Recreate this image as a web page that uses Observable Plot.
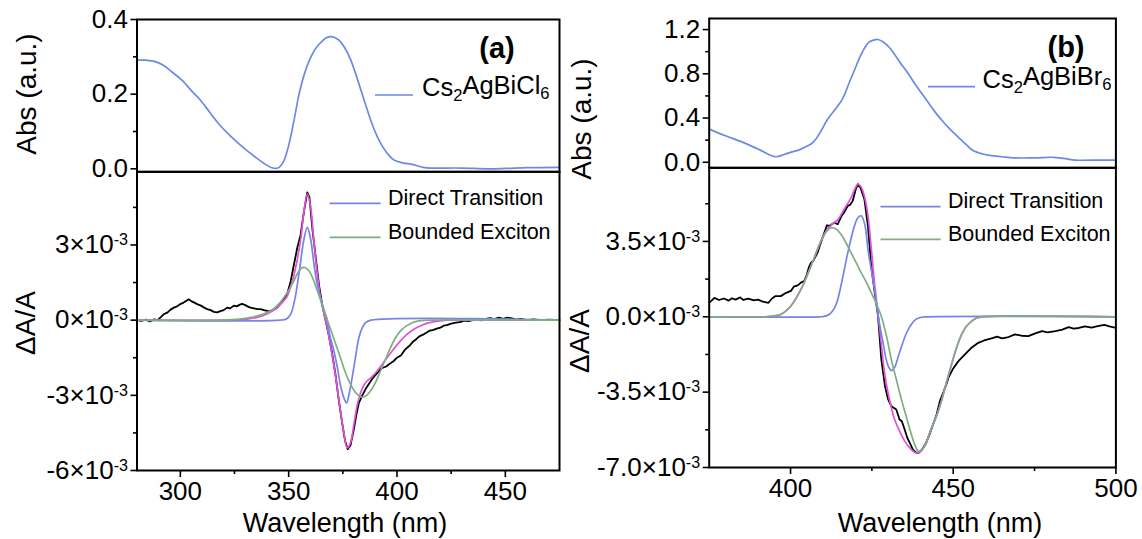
<!DOCTYPE html>
<html>
<head>
<meta charset="utf-8">
<script src="https://cdn.jsdelivr.net/npm/d3@7"></script>
<script src="https://cdn.jsdelivr.net/npm/@observablehq/plot@0.6"></script>
<style>
  body { margin: 0; background: #fff; }
  #chart { position: relative; width: 1142px; height: 539px; overflow: hidden; background: #fff; }
</style>
</head>
<body>
<div id="chart"></div>
<script>
// ---------- Panel (a): Cs2AgBiCl6 ----------
const absA_nm = [280, 284, 288, 292, 296, 301, 305, 309.4, 313.5, 317.8, 322, 326.3, 330.5, 334.7, 338.5, 342.2, 345, 347.5, 349.8, 352.3, 354.8, 357.3, 359.9, 362.4, 364.9, 367, 369.1, 371.2, 373.3, 375.8, 378.4, 380.9, 383.4, 386, 388.5, 391, 393.5, 396, 398.5, 402.7, 406.9, 412, 415.4, 420, 430, 441.8, 450, 460, 475];
const absA = [0.292, 0.291, 0.288, 0.278, 0.26, 0.236, 0.21, 0.183, 0.152, 0.12, 0.094, 0.071, 0.05, 0.031, 0.015, 0.003, 0.002, 0.018, 0.058, 0.125, 0.2, 0.255, 0.295, 0.322, 0.339, 0.35, 0.354, 0.352, 0.344, 0.325, 0.295, 0.255, 0.21, 0.163, 0.12, 0.085, 0.058, 0.038, 0.024, 0.016, 0.012, 0.004, 0.002, 0.002, 0.002, 0.0, 0.001, 0.003, 0.004];

// ΔA/A in units of 1e-3
const dataA_nm = [280, 282, 284, 286, 288, 289.5, 291, 292.4, 294, 295.5, 297, 298.5, 300, 301.5, 303, 303.9, 305, 306.5, 307.8, 309.5, 311, 312.4, 314, 315.5, 317, 318.5, 320, 321.6, 323, 324.7, 326, 327.5, 328.5, 330, 331, 332.4, 334, 335.5, 337, 338.5, 340.1, 341.5, 343, 344.7, 346.5, 348, 349.3, 350.8, 352.4, 354, 355.5, 357, 358.6, 359.6, 361, 362.5, 364, 365.5, 367, 368.5, 370, 371.5, 373, 374.5, 376, 377.2, 378.5, 380, 381.2, 382.4, 384, 385.5, 387, 388.5, 390, 391.5, 392.4, 393.5, 395, 396.5, 398.5, 400, 401.9, 403.5, 404.7, 406, 407.5, 409, 410.3, 412, 413.5, 415, 416.5, 418.7, 420, 421.5, 423, 425, 427.1, 429, 431, 433, 435, 437, 439, 441, 443, 445, 447, 449, 451, 453, 455, 457, 460, 463, 466, 470, 475];
const dataA = [0.0, -0.03, 0.02, -0.05, 0.03, 0.0, 0.12, 0.24, 0.3, 0.42, 0.5, 0.55, 0.64, 0.7, 0.78, 0.83, 0.76, 0.7, 0.64, 0.58, 0.5, 0.44, 0.4, 0.33, 0.31, 0.36, 0.4, 0.5, 0.47, 0.58, 0.55, 0.62, 0.65, 0.6, 0.55, 0.5, 0.47, 0.44, 0.44, 0.4, 0.37, 0.36, 0.42, 0.5, 0.7, 0.85, 1.04, 1.5, 2.2, 2.9, 3.4, 4.3, 5.1, 4.9, 3.6, 2.5, 1.4, 0.6, 0.0, -0.6, -1.3, -2.1, -3.1, -4.0, -4.8, -5.15, -5.0, -4.4, -3.8, -3.3, -3.0, -2.75, -2.55, -2.35, -2.2, -2.05, -1.95, -1.9, -1.85, -1.75, -1.63, -1.5, -1.4, -1.2, -1.1, -1.0, -0.85, -0.75, -0.65, -0.58, -0.5, -0.42, -0.4, -0.33, -0.3, -0.22, -0.2, -0.14, -0.1, -0.08, -0.02, -0.04, 0.0, 0.03, -0.01, 0.05, 0.08, 0.04, 0.1, 0.05, 0.1, 0.07, 0.02, 0.05, 0.0, 0.03, 0.0, 0.02, 0.0];

const fitA_nm = [280, 325, 330, 335, 340, 344, 347, 349.3, 351, 353, 355.5, 357, 358.6, 360, 361.6, 363, 364.7, 366.2, 367.8, 369.3, 370.8, 372.4, 373.9, 375.5, 377, 378.5, 380.1, 381.6, 383.2, 384.7, 386.2, 388.5, 390.8, 393, 395.4, 398.5, 401.6, 404.7, 407.8, 410.8, 414, 418, 422, 426, 475];
const fitA = [0, 0, 0.03, 0.1, 0.25, 0.45, 0.7, 0.95, 1.35, 2.0, 3.2, 4.3, 5.04, 4.6, 3.2, 2.0, 0.9, 0.3, -0.3, -1.0, -1.76, -2.7, -3.63, -4.5, -5.1, -4.9, -4.16, -3.4, -2.9, -2.6, -2.43, -2.25, -2.03, -1.78, -1.5, -1.15, -0.83, -0.56, -0.36, -0.23, -0.12, -0.05, -0.01, 0, 0];

const directA_nm = [280, 346, 349, 351, 353, 355, 357, 358.6, 360, 361.6, 363, 364.7, 366, 367.8, 369, 370.8, 372.5, 373.9, 375.5, 376.7, 378, 379.3, 381, 382.4, 384, 385.5, 388, 475];
const directA = [0, 0, 0.05, 0.25, 0.9, 2.0, 3.2, 3.7, 3.3, 2.3, 1.5, 0.9, 0.5, 0.0, -0.6, -1.2, -1.9, -2.6, -3.1, -3.3, -2.9, -2.3, -1.4, -0.7, -0.3, -0.1, 0, 0];

const excitonA_nm = [280, 318, 324, 328, 332, 336, 340, 343, 346, 349, 352, 354, 356, 357.5, 359, 360.5, 362.5, 364.7, 367, 369.3, 371.5, 373.9, 376, 378.5, 381, 383.9, 386, 388, 390, 392.4, 395, 397, 399, 401.6, 404, 406.2, 408.5, 411, 414, 475];
const excitonA = [0, 0, 0.02, 0.05, 0.1, 0.18, 0.3, 0.45, 0.7, 1.05, 1.5, 1.85, 2.08, 2.1, 2.0, 1.8, 1.35, 0.8, 0.2, -0.35, -0.9, -1.5, -2.05, -2.55, -2.9, -3.07, -3.0, -2.8, -2.5, -2.03, -1.5, -1.1, -0.75, -0.43, -0.25, -0.14, -0.06, -0.02, 0, 0];

// ---------- Panel (b): Cs2AgBiBr6 ----------
const absB_nm = [375, 380, 385.4, 390, 395.4, 398, 400, 402.5, 404.4, 406.5, 407.8, 409.5, 411.2, 413.5, 415.7, 417, 417.9, 419.6, 421.3, 422.7, 424.1, 425.5, 426.9, 428.6, 430.3, 432, 433.6, 436, 438.2, 440.4, 442.6, 444.8, 447.1, 449.3, 451.6, 454, 456.1, 459, 461.7, 465, 468.5, 475, 480.8, 484, 487.6, 495, 500];
const absB = [0.30, 0.24, 0.18, 0.12, 0.05, 0.07, 0.09, 0.11, 0.135, 0.17, 0.21, 0.29, 0.38, 0.47, 0.56, 0.64, 0.71, 0.83, 0.95, 1.03, 1.086, 1.105, 1.11, 1.085, 1.04, 0.975, 0.905, 0.81, 0.71, 0.62, 0.53, 0.44, 0.36, 0.29, 0.226, 0.16, 0.106, 0.075, 0.06, 0.05, 0.04, 0.04, 0.045, 0.035, 0.02, 0.02, 0.02];

const dataB_nm = [375, 376.6, 378, 379.5, 381, 382, 383.1, 384.5, 385.5, 387, 388.7, 390, 391.5, 393.2, 394.3, 395.4, 397, 398.5, 400.1, 401, 402.2, 403.3, 404.2, 405, 405.6, 406.3, 407, 408.3, 409, 410.4, 411.2, 411.9, 413.4, 414.5, 415.7, 416.5, 417.6, 418.3, 419.1, 420, 420.7, 421.5, 422.7, 423.8, 424.8, 425.8, 426.9, 427.9, 429, 430, 431, 432.5, 433.5, 434.2, 435, 435.9, 436.8, 437.6, 438.5, 439.3, 440.4, 441.5, 442.7, 443.8, 444.9, 445.9, 447, 448.2, 448.5, 450, 451.6, 453.6, 455.5, 457.7, 459.5, 461.8, 463.5, 465, 467, 469, 471, 473.1, 475, 477.3, 479, 481.4, 483.5, 485.5, 487, 488.6, 490.5, 492.5, 494.4, 496.5, 498, 500];
const dataB = [0.65, 0.88, 0.78, 0.85, 0.75, 0.86, 0.8, 0.9, 0.78, 0.84, 0.76, 0.8, 0.7, 0.65, 0.85, 0.96, 0.96, 1.1, 1.2, 1.4, 1.46, 1.6, 1.66, 1.95, 2.28, 2.51, 2.6, 2.98, 3.3, 3.91, 4.25, 4.22, 4.37, 4.3, 4.69, 4.85, 5.15, 5.2, 5.38, 5.9, 6.16, 6.0, 5.46, 4.2, 2.36, 1.2, 0.03, -1.98, -3.2, -3.84, -4.16, -4.31, -4.77, -4.85, -5.2, -5.63, -5.9, -6.17, -6.3, -6.33, -6.17, -5.9, -5.47, -5.0, -4.54, -3.92, -3.5, -3.0, -2.84, -2.4, -2.06, -1.75, -1.45, -1.21, -1.1, -1.0, -0.92, -1.0, -0.94, -0.82, -0.88, -0.9, -0.78, -0.67, -0.72, -0.67, -0.6, -0.48, -0.55, -0.52, -0.45, -0.5, -0.43, -0.38, -0.45, -0.51];

const fitB_nm = [375, 392, 394.3, 397, 400.1, 403.2, 406.3, 409.4, 411, 412.4, 414.5, 416.5, 418.5, 419.8, 420.7, 421.6, 422.7, 423.8, 424.8, 425.8, 427.3, 428.9, 430.4, 432, 433.5, 435, 437, 438.7, 440, 441.5, 443, 444.9, 446.4, 448, 449.5, 451, 452.6, 454, 455.7, 457.2, 458.7, 500];
const fitB = [0, 0, 0.03, 0.11, 0.5, 1.27, 2.36, 3.55, 4.0, 4.25, 4.5, 5.0, 5.5, 5.95, 6.16, 6.05, 5.6, 4.69, 3.2, 1.58, -0.43, -2.6, -3.84, -4.77, -5.3, -5.75, -6.15, -6.33, -6.25, -5.94, -5.3, -4.6, -3.9, -3.0, -2.2, -1.45, -0.82, -0.45, -0.2, -0.06, 0, 0];

const directB_nm = [375, 409, 410.4, 412, 413.5, 414.5, 416, 417.6, 419.6, 420.7, 421.7, 422.8, 423.8, 424.8, 425.8, 426.5, 427.3, 428.3, 429.4, 430.2, 431, 432, 433, 434, 435.5, 437.1, 438.5, 440.2, 442, 500];
const directB = [0, 0, 0.02, 0.12, 0.4, 0.8, 1.8, 2.98, 4.2, 4.6, 4.69, 4.3, 3.13, 2.2, 1.27, 0.5, -0.28, -1.1, -1.98, -2.35, -2.5, -2.35, -1.9, -1.44, -0.8, -0.36, -0.12, -0.02, 0, 0];

const excitonB_nm = [375, 392, 394.3, 397, 400.1, 403.2, 406.3, 409.4, 411, 412.4, 414, 415.5, 417, 418.6, 420.2, 421.7, 423.3, 424.8, 426.4, 427.9, 429.5, 431, 432.5, 434, 435.5, 437, 438.2, 439.3, 440.4, 441.5, 443, 444.9, 446.4, 448, 449.5, 451, 452.6, 454, 455.7, 457.2, 458.7, 500];
const excitonB = [0, 0, 0.03, 0.11, 0.5, 1.27, 2.36, 3.52, 3.95, 4.14, 4.08, 3.83, 3.45, 2.98, 2.5, 2.05, 1.6, 1.12, 0.6, 0.03, -0.9, -2.0, -2.9, -3.8, -4.6, -5.4, -5.95, -6.25, -6.15, -5.9, -5.3, -4.6, -3.9, -3.0, -2.2, -1.45, -0.82, -0.45, -0.2, -0.06, 0, 0];

// ---------- Axis ticks and labels ----------
const absA_ticks = [0, 0.2, 0.4];
const absA_minor = [0.1, 0.3];
const absB_ticks = [0, 0.4, 0.8, 1.2];
const absB_minor = [0.2, 0.6, 1.0];
const dA_ticks = [-6, -3, 0, 3];
const dA_labels = ["-6×10^-3", "-3×10^-3", "0×10^-3", "3×10^-3"];
const dA_minor = [-4.5, -1.5, 1.5, 4.5];
const dB_ticks = [-7, -3.5, 0, 3.5];
const dB_labels = ["-7.0×10^-3", "-3.5×10^-3", "0.0×10^-3", "3.5×10^-3"];
const dB_minor = [-5.25, -1.75, 1.75, 5.25];
const xA_ticks = [300, 350, 400, 450];
const xA_minor = [325, 375, 425];
const xB_ticks = [400, 450, 500];
const xB_minor = [425, 475];

const FONT = 'Arial, "Liberation Sans", Helvetica, sans-serif';
const C_ABS = "#6d89e2";
const C_DIRECT = "#7783e8";
const C_EXC = "#7fae80";
const C_FIT = "#e052dc";
const C_DATA = "#000000";

const W = 571, H = 539;
const chart = document.getElementById("chart");

const rows = (xs, ys) => xs.map((x, i) => ({x, y: ys[i]}));

function place(svg, left) {
  svg.style.position = "absolute";
  svg.style.left = left + "px";
  svg.style.top = "0px";
  svg.style.maxWidth = "none";
  chart.appendChild(svg);
}

// Rewrite "a^b" tick labels as base + superscript tspans
function superscripts(svg) {
  svg.querySelectorAll("text").forEach(t => {
    const s = t.textContent;
    if (!s.includes("^")) return;
    const [base, exp] = s.split("^");
    t.textContent = "";
    const ns = "http://www.w3.org/2000/svg";
    const a = document.createElementNS(ns, "tspan");
    a.textContent = base;
    const b = document.createElementNS(ns, "tspan");
    b.textContent = exp;
    b.setAttribute("dy", "-0.5em");
    b.setAttribute("font-size", "0.62em");
    t.appendChild(a);
    t.appendChild(b);
  });
}

function subplot({left, ml, mr, mt, mb, xDomain, yDomain, yTicks, yMinor, yFormat, xTicks, xMinor, series}) {
  const marks = series.map(s => Plot.line(rows(s.x, s.y), {
    x: "x", y: "y", stroke: s.color, strokeWidth: s.width || 1.7,
    curve: s.curve || "catmull-rom"
  }));
  marks.push(
    Plot.frame({stroke: "black", strokeWidth: 2}),
    Plot.axisY(yTicks, {anchor: "left", label: null, tickSize: 6, tickPadding: 3, tickFormat: yFormat, strokeWidth: 1.6}),
    Plot.axisY(yMinor, {anchor: "left", label: null, tickSize: 3.5, tickFormat: () => "", strokeWidth: 1.6})
  );
  if (xTicks) {
    marks.push(
      Plot.axisX(xTicks, {anchor: "bottom", label: null, tickSize: 7, tickPadding: 4, tickFormat: d => String(d), strokeWidth: 1.6}),
      Plot.axisX(xMinor, {anchor: "bottom", label: null, tickSize: 4, tickFormat: () => "", strokeWidth: 1.6})
    );
  }
  const svg = Plot.plot({
    width: W, height: H,
    marginLeft: ml, marginRight: mr, marginTop: mt, marginBottom: mb,
    x: {domain: xDomain, label: null, axis: xTicks ? undefined : null},
    y: {domain: yDomain, label: null},
    style: {background: "transparent", fontFamily: FONT, fontSize: "26px", color: "black", overflow: "visible"},
    marks
  });
  superscripts(svg);
  place(svg, left);
}

// Panel (a)
subplot({
  left: 0, ml: 136.5, mr: 12, mt: 19, mb: H - 171.3,
  xDomain: [280, 475], yDomain: [-0.008, 0.4],
  yTicks: absA_ticks, yMinor: absA_minor, yFormat: d => d.toFixed(1),
  series: [{x: absA_nm, y: absA, color: C_ABS}]
});
subplot({
  left: 0, ml: 136.5, mr: 12, mt: 171.3, mb: H - 470,
  xDomain: [280, 475], yDomain: [-6, 5.92],
  yTicks: dA_ticks, yMinor: dA_minor, yFormat: (d, i) => dA_labels[i],
  xTicks: xA_ticks, xMinor: xA_minor,
  series: [
    {x: dataA_nm, y: dataA, color: C_DATA, curve: "linear", width: 1.8},
    {x: fitA_nm, y: fitA, color: C_FIT},
    {x: directA_nm, y: directA, color: C_DIRECT},
    {x: excitonA_nm, y: excitonA, color: C_EXC}
  ]
});

// Panel (b)
subplot({
  left: 571, ml: 137.7, mr: 26.6, mt: 18, mb: H - 167.3,
  xDomain: [375, 500], yDomain: [-0.05, 1.30],
  yTicks: absB_ticks, yMinor: absB_minor, yFormat: d => d.toFixed(1),
  series: [{x: absB_nm, y: absB, color: C_ABS}]
});
subplot({
  left: 571, ml: 137.7, mr: 26.6, mt: 167.3, mb: H - 467,
  xDomain: [375, 500], yDomain: [-7, 6.92],
  yTicks: dB_ticks, yMinor: dB_minor, yFormat: (d, i) => dB_labels[i],
  xTicks: xB_ticks, xMinor: xB_minor,
  series: [
    {x: dataB_nm, y: dataB, color: C_DATA, curve: "linear", width: 1.8},
    {x: fitB_nm, y: fitB, color: C_FIT},
    {x: directB_nm, y: directB, color: C_DIRECT},
    {x: excitonB_nm, y: excitonB, color: C_EXC}
  ]
});

// ---------- Titles, axis labels and legends ----------
const ov = d3.create("svg")
  .attr("width", 1142).attr("height", 539)
  .style("position", "absolute").style("left", "0px").style("top", "0px")
  .style("font-family", FONT);

function vlabel(x, y, text, size) {
  ov.append("text").attr("x", x).attr("y", y)
    .attr("transform", `rotate(-90,${x},${y})`)
    .attr("text-anchor", "middle").attr("font-size", size).text(text);
}
vlabel(36, 94, "Abs (a.u.)", 28);
vlabel(35, 323, "ΔA/A", 28);
vlabel(591, 119, "Abs (a.u.)", 28);
vlabel(589, 341, "ΔA/A", 28);

ov.append("text").attr("x", 345).attr("y", 532).attr("text-anchor", "middle").attr("font-size", 27).text("Wavelength (nm)");
ov.append("text").attr("x", 940).attr("y", 532).attr("text-anchor", "middle").attr("font-size", 27).text("Wavelength (nm)");

ov.append("text").attr("x", 497).attr("y", 58).attr("text-anchor", "middle").attr("font-size", 29).attr("font-weight", "bold").text("(a)");
ov.append("text").attr("x", 1066).attr("y", 57).attr("text-anchor", "middle").attr("font-size", 29).attr("font-weight", "bold").text("(b)");

function swatch(x1, x2, y, color) {
  ov.append("line").attr("x1", x1).attr("x2", x2).attr("y1", y).attr("y2", y)
    .attr("stroke", color).attr("stroke-width", 1.7);
}
function legendText(x, y, parts, size) {
  const t = ov.append("text").attr("x", x).attr("y", y).attr("font-size", size);
  parts.forEach(([s, sub]) => {
    if (sub) t.append("tspan").attr("dy", "0.3em").attr("font-size", "0.65em").text(s);
    else t.append("tspan").attr("dy", t.node().childNodes.length ? "-0.3em" : null).text(s);
  });
}

swatch(375, 413, 95, C_ABS);
legendText(422, 104, [["Cs"], ["2", true], ["AgBiCl"], ["6", true]], 25.5);
swatch(928, 975, 86.7, C_ABS);
legendText(982.5, 95.5, [["Cs"], ["2", true], ["AgBiBr"], ["6", true]], 25.5);

swatch(329.6, 380.6, 203.3, C_DIRECT);
legendText(388, 211.3, [["Direct Transition"]], 21.5);
swatch(329.6, 380.6, 237.3, C_EXC);
legendText(388, 245.3, [["Bounded Exciton"]], 21.5);

swatch(880.5, 940.6, 206.7, C_DIRECT);
legendText(948, 214.7, [["Direct Transition"]], 21.5);
swatch(880.5, 940.6, 239.3, C_EXC);
legendText(948, 247.3, [["Bounded Exciton"]], 21.5);

chart.appendChild(ov.node());
</script>
</body>
</html>
